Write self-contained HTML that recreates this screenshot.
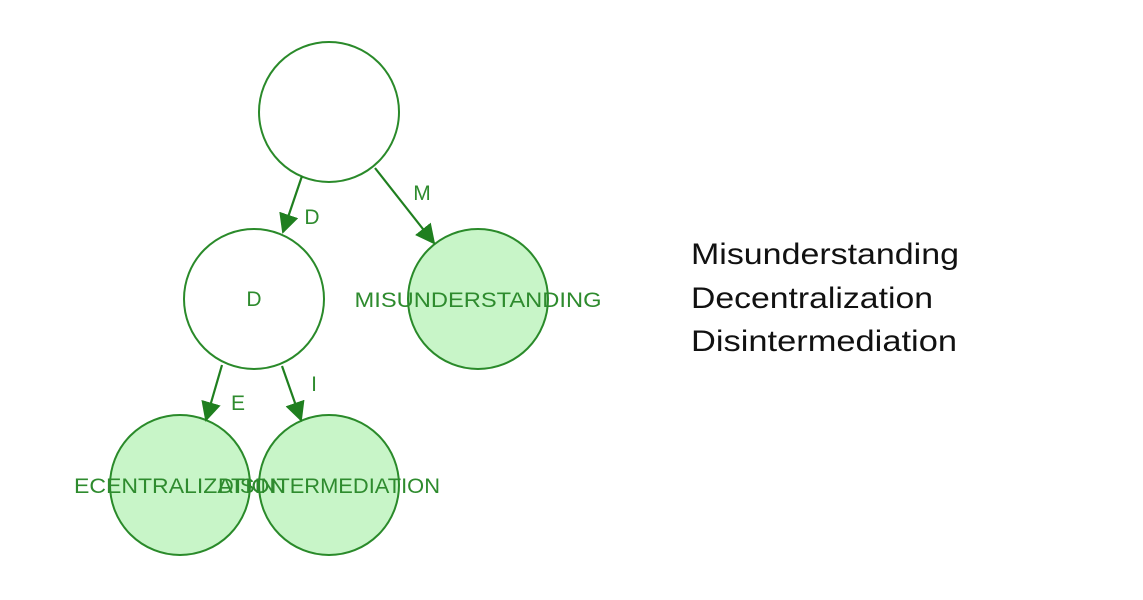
<!DOCTYPE html>
<html><head><meta charset="utf-8"><style>html,body{margin:0;padding:0;background:#fff}</style></head>
<body>
<svg width="1143" height="595" viewBox="0 0 1143 595" xmlns="http://www.w3.org/2000/svg">
<defs><marker id="a" viewBox="0 0 10 10" refX="9" refY="5" markerWidth="8" markerHeight="8" markerUnits="userSpaceOnUse" orient="auto"><path d="M0,0L10,5L0,10z" fill="#1f7f1f"/></marker>
<marker id="b" viewBox="0 0 10 10" refX="9" refY="5" markerWidth="20" markerHeight="20" markerUnits="userSpaceOnUse" orient="auto"><path d="M0,0L10,5L0,10z" fill="#1f7f1f"/></marker></defs>
<g fill="none" stroke="#2a8a2a" stroke-width="2">
<circle cx="329" cy="112" r="70" fill="#fff"/>
<circle cx="254" cy="299" r="70" fill="#fff"/>
<circle cx="478" cy="299" r="70" fill="#c8f5c8"/>
<circle cx="180" cy="485" r="70" fill="#c8f5c8"/>
<circle cx="329" cy="485" r="70" fill="#c8f5c8"/>
</g>
<g stroke="#1f7f1f" stroke-width="2.2" marker-end="url(#b)">
<line x1="302" y1="176" x2="283" y2="232"/>
<line x1="375" y1="168" x2="434" y2="243"/>
<line x1="222" y1="365" x2="206" y2="420"/>
<line x1="282" y1="366" x2="301" y2="420"/>
</g>
<g font-family="Liberation Sans, sans-serif" font-size="21" fill="#2e8b2e" text-anchor="middle">
<text x="312" y="224">D</text>
<text x="422" y="200">M</text>
<text x="238" y="410">E</text>
<text x="314" y="391">I</text>
<text x="254" y="306">D</text>
<text x="478" y="307" textLength="247" lengthAdjust="spacingAndGlyphs">MISUNDERSTANDING</text>
<text x="180" y="493" textLength="212" lengthAdjust="spacingAndGlyphs">ECENTRALIZATION</text>
<text x="329" y="493" textLength="222" lengthAdjust="spacingAndGlyphs">DISINTERMEDIATION</text>
</g>
<g font-family="Liberation Sans, sans-serif" font-size="30" fill="#111">
<text x="691" y="264" textLength="268" lengthAdjust="spacingAndGlyphs">Misunderstanding</text>
<text x="691" y="308" textLength="242" lengthAdjust="spacingAndGlyphs">Decentralization</text>
<text x="691" y="351" textLength="266" lengthAdjust="spacingAndGlyphs">Disintermediation</text>
</g>
</svg>
</body></html>
